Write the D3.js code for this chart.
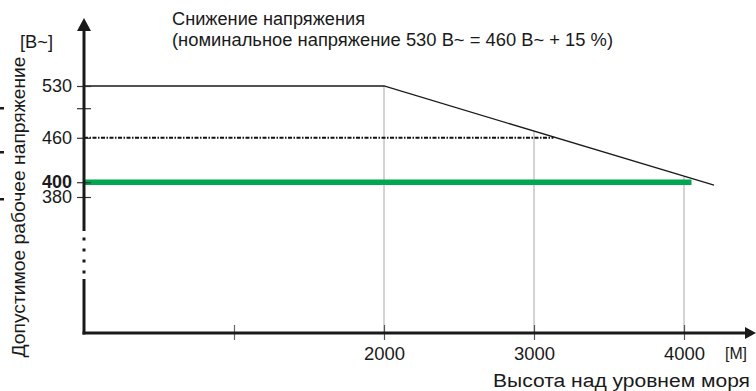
<!DOCTYPE html>
<html>
<head>
<meta charset="utf-8">
<script src="https://cdn.jsdelivr.net/npm/d3@7"></script>
<style>
  html, body { margin: 0; padding: 0; background: #fff; }
  svg { display: block; font-family: "Liberation Sans", Arial, sans-serif; }
</style>
</head>
<body>
<svg id="chart" width="756" height="391"></svg>
<script>
// ---- data ----
const titleText = "Снижение напряжения";
const subtitleText = "(номинальное напряжение 530 В~ = 460 В~ + 15 %)";
const yUnitLabel = "[В~]";
const yAxisTitle = "Допустимое рабочее напряжение";
const xUnitLabel = "[М]";
const xAxisTitle = "Высота над уровнем моря";

const yTickValues = [530, 500, 460, 400, 380];
const yTickLabels = ["530", "", "460", "400", "380"];
const xTickValues = [1000, 2000, 3000, 4000];
const xTickLabels = ["", "2000", "3000", "4000"];

// derating curve (altitude m, voltage V)
const curveAltitude = [0, 2000, 4200];
const curveVoltage = [530, 530, 396];
// 460 V reference line (dash-dot)
const refAltitude = [0, 3130];
const refVoltage = [460, 460];
// 400 V supply line (green)
const supplyAltitude = [0, 4050];
const supplyVoltage = [400, 400];
// vertical guide lines
const guideAltitude = [2000, 3000, 4000];
const guideVoltage = [530, 469, 408];

// ---- scales ----
const x = d3.scaleLinear().domain([0, 4000]).range([84, 684]);
const y = d3.scaleLinear().domain([380, 530]).range([197, 86]);
const axisY = 333;      // x-axis position
const axisX = 84;       // y-axis position

const svg = d3.select("#chart");
const ink = "#1a1a1a";

// guide lines
svg.append("g").selectAll("line").data(guideAltitude).join("line")
  .attr("x1", d => x(d)).attr("x2", d => x(d))
  .attr("y1", (d, i) => y(guideVoltage[i])).attr("y2", axisY)
  .attr("stroke", "#a8a8a8").attr("stroke-width", 1);

// curve
const line = d3.line().x(d => x(d[0])).y(d => y(d[1]));
svg.append("path")
  .datum(curveAltitude.map((a, i) => [a, curveVoltage[i]]))
  .attr("d", line).attr("fill", "none")
  .attr("stroke", ink).attr("stroke-width", 1.3);

// 460 reference
svg.append("path")
  .datum(refAltitude.map((a, i) => [a, refVoltage[i]]))
  .attr("d", line).attr("fill", "none")
  .attr("stroke", "#111").attr("stroke-width", 2)
  .attr("stroke-dasharray", "4,1.5,1.5,1.5");

// 400 green
svg.append("path")
  .datum(supplyAltitude.map((a, i) => [a, supplyVoltage[i]]))
  .attr("d", line).attr("fill", "none")
  .attr("stroke", "#00a650").attr("stroke-width", 5.5);

// ---- Y axis (custom, broken) ----
const yAxisG = svg.append("g").attr("transform", `translate(${axisX},0)`);
const yAxis = d3.axisLeft(y).tickValues(yTickValues)
  .tickFormat((d, i) => yTickLabels[i]).tickSize(7).tickPadding(5);
yAxisG.call(yAxis);
yAxisG.select(".domain").remove();
yAxisG.selectAll(".tick line").attr("x1", -7).attr("x2", 7)
  .attr("stroke", "#333").attr("stroke-width", 1.2);
yAxisG.selectAll(".tick text")
  .attr("font-size", 18).attr("fill", ink)
  .attr("font-family", "'Liberation Sans', Arial, sans-serif")
  .attr("font-weight", d => d === 400 ? "bold" : "normal");
yAxisG.selectAll(".tick").filter(d => d === 400).select("text").attr("dy", "0.3em");
yAxisG.selectAll(".tick").filter(d => d === 380).select("text").attr("dy", "0.3em");

// y axis line segments
svg.append("line").attr("x1", axisX).attr("x2", axisX).attr("y1", 28).attr("y2", 231)
  .attr("stroke", ink).attr("stroke-width", 3);
svg.append("line").attr("x1", axisX).attr("x2", axisX).attr("y1", 279).attr("y2", axisY + 1.5)
  .attr("stroke", ink).attr("stroke-width", 3);
svg.append("g").selectAll("rect").data([239, 250, 261, 272]).join("rect")
  .attr("x", axisX - 1.5).attr("y", d => d - 1.5).attr("width", 3).attr("height", 3)
  .attr("fill", ink);
svg.append("path").attr("d", `M${axisX},18 L${axisX - 7},31 L${axisX + 7},31 Z`).attr("fill", ink);

// ---- X axis ----
const xAxisG = svg.append("g").attr("transform", `translate(0,${axisY})`);
const xAxis = d3.axisBottom(x).tickValues(xTickValues)
  .tickFormat((d, i) => xTickLabels[i]).tickSize(7).tickPadding(7);
xAxisG.call(xAxis);
xAxisG.select(".domain").remove();
xAxisG.selectAll(".tick line").attr("y1", -8).attr("y2", 7)
  .attr("stroke", d => d === 1000 ? "#666" : "#555").attr("stroke-width", 1.2);
xAxisG.selectAll(".tick text")
  .attr("font-size", 18.5).attr("fill", ink)
  .attr("font-family", "'Liberation Sans', Arial, sans-serif");
svg.append("line").attr("x1", axisX - 1.5).attr("x2", 750).attr("y1", axisY).attr("y2", axisY)
  .attr("stroke", ink).attr("stroke-width", 3);
svg.append("path").attr("d", `M756,${axisY} L745,${axisY - 6} L745,${axisY + 6} Z`).attr("fill", ink);

// stray marks at left edge
svg.append("g").selectAll("rect").data([108, 152, 199]).join("rect")
  .attr("x", 0).attr("y", d => d - 1).attr("width", 4).attr("height", 2.5).attr("fill", ink);

// ---- texts ----
svg.append("text").attr("x", 172).attr("y", 25).attr("font-size", 18).attr("fill", ink)
  .attr("textLength", 193).attr("lengthAdjust", "spacingAndGlyphs").text(titleText);
svg.append("text").attr("x", 172).attr("y", 46).attr("font-size", 17.5).attr("fill", ink)
  .attr("textLength", 441).attr("lengthAdjust", "spacingAndGlyphs").text(subtitleText);
svg.append("text").attr("x", 20).attr("y", 48).attr("font-size", 18).attr("fill", ink)
  .attr("textLength", 33).attr("lengthAdjust", "spacingAndGlyphs").text(yUnitLabel);
svg.append("text").attr("transform", "translate(25,207) rotate(-90)")
  .attr("text-anchor", "middle").attr("font-size", 18).attr("fill", ink)
  .attr("textLength", 301).attr("lengthAdjust", "spacingAndGlyphs").text(yAxisTitle);
svg.append("text").attr("x", 725).attr("y", 359).attr("font-size", 17).attr("fill", ink)
  .attr("textLength", 22).attr("lengthAdjust", "spacingAndGlyphs").text(xUnitLabel);
svg.append("text").attr("x", 493).attr("y", 387).attr("font-size", 18).attr("fill", ink)
  .attr("textLength", 257).attr("lengthAdjust", "spacingAndGlyphs").text(xAxisTitle);
</script>
</body>
</html>
